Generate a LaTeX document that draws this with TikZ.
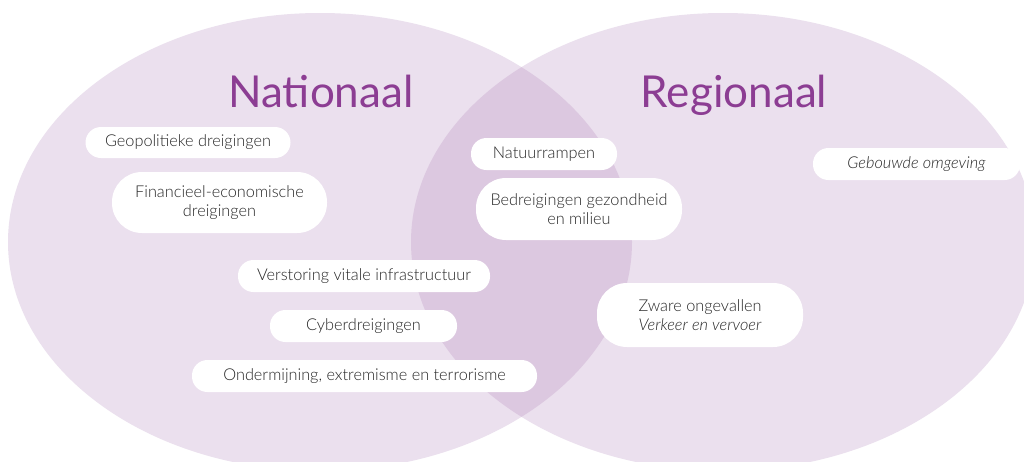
\documentclass[tikz,border=0pt]{standalone}
\usepackage{fontspec}
\setmainfont{Lato}[UprightFont=* Light, ItalicFont=* Light Italic]
\newfontfamily\titlefont{Lato}
\definecolor{lightlila}{HTML}{EBE0EE}
\definecolor{darklila}{HTML}{DCC8E0}
\definecolor{titlepurple}{HTML}{8C3D93}
\definecolor{txtgray}{HTML}{262626}
\begin{document}
\begin{tikzpicture}[x=1pt,y=-1pt,
  pill/.style={fill=white, rounded corners=15.5pt, minimum height=31pt, inner sep=0pt,
    text=txtgray, font=\fontsize{16.3}{19}\selectfont, align=center},
  pilltwo/.style={pill, rounded corners=30pt, minimum height=62pt},
  title/.style={text=titlepurple, font=\titlefont\fontsize{44}{50}\selectfont, inner sep=0pt, anchor=base}]
\useasboundingbox (0,0) rectangle (1024,461);
\fill[white] (0,0) rectangle (1024,461);
\begin{scope}
\clip (0,0) rectangle (1024,461);
\fill[lightlila] (320,242) ellipse [x radius=312, y radius=229];
\fill[lightlila] (723,242) ellipse [x radius=312, y radius=229];
\begin{scope}
\clip (320,242) ellipse [x radius=312, y radius=229];
\fill[darklila] (723,242) ellipse [x radius=312, y radius=229];
\end{scope}
\end{scope}
\node[title] (nat) at (321,107) {Nationaal};
\node[title] (reg) at (734,107) {Regionaal};
\node[pill, minimum width=205pt] (geo) at (188,142.5) {Geopolitieke dreigingen};
\node[pilltwo, minimum width=215pt, minimum height=61pt] (fin) at (219.5,202.5) {Financieel-economische\\dreigingen};
\node[pill, minimum width=146pt, minimum height=32pt] (natu) at (544,154) {Natuurrampen};
\node[pilltwo, minimum width=206pt] (bed) at (579,209) {Bedreigingen gezondheid\\en milieu};
\node[pill, minimum width=207pt, minimum height=32pt] (geb) at (916.5,164) {\itshape Gebouwde omgeving};
\node[pill, minimum width=252pt, minimum height=32pt] (ver) at (364,276) {Verstoring vitale infrastructuur};
\node[pill, minimum width=187pt, minimum height=32pt] (cyb) at (363.5,326) {Cyberdreigingen};
\node[pill, minimum width=345pt, minimum height=32pt] (ond) at (364.5,376) {Ondermijning, extremisme en terrorisme};
\node[pilltwo, minimum width=206pt, minimum height=64pt] (zwa) at (700,315) {Zware ongevallen\\\itshape Verkeer en vervoer};
\end{tikzpicture}
\end{document}
